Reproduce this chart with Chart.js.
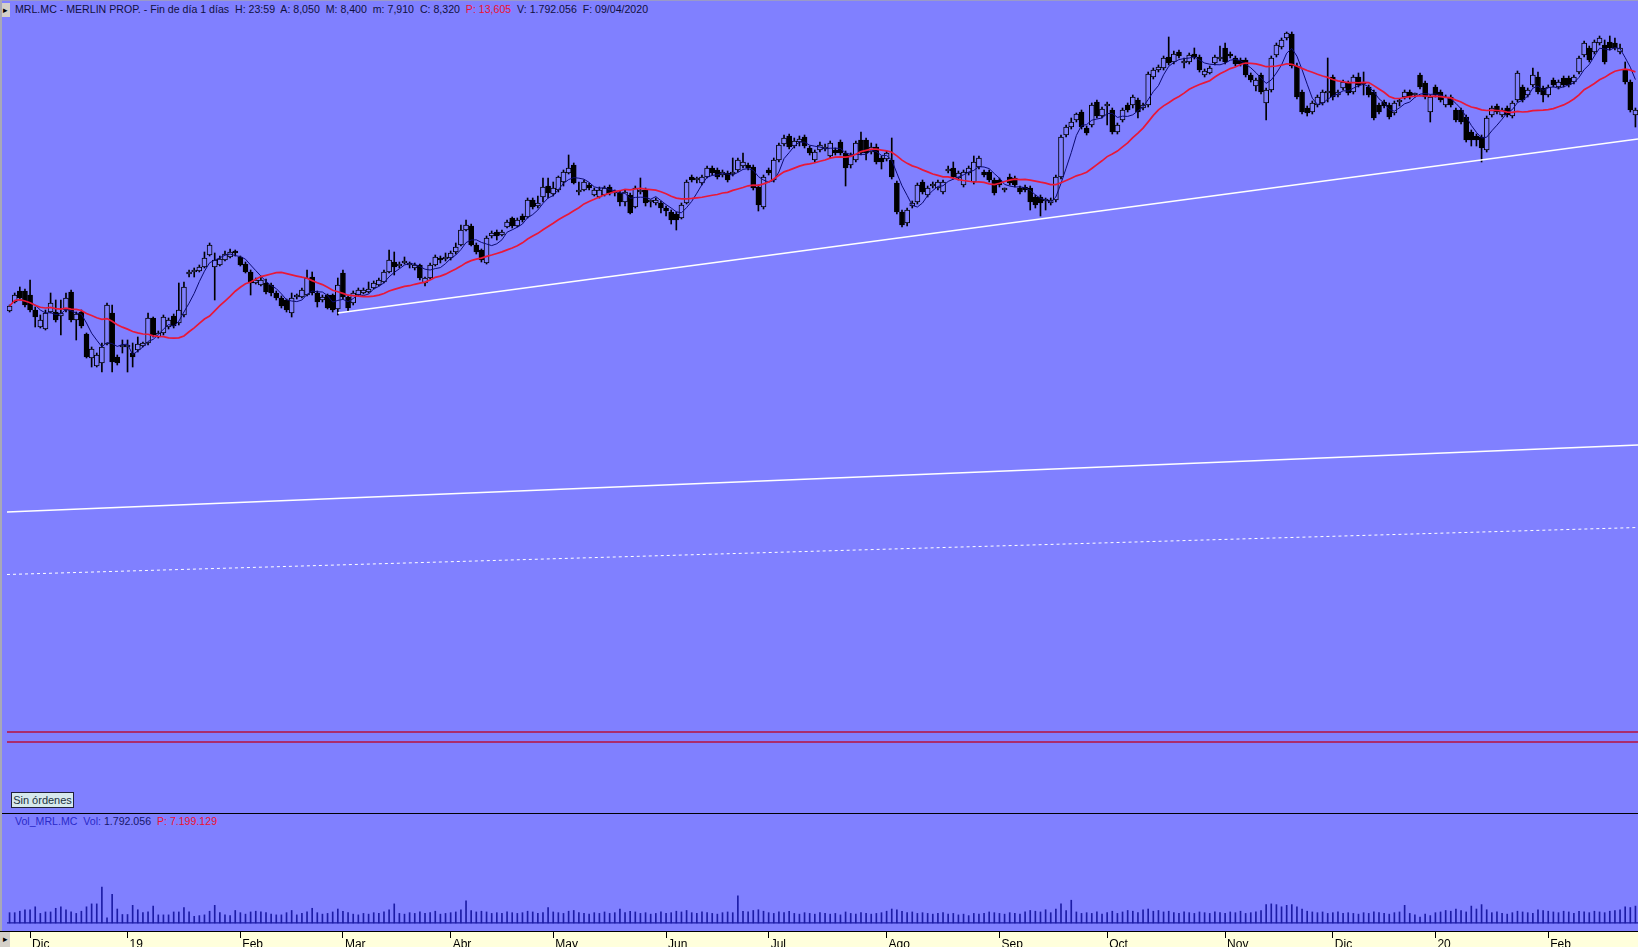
<!DOCTYPE html>
<html>
<head>
<meta charset="utf-8">
<title>MRL.MC - MERLIN PROP.</title>
<script src="https://cdn.jsdelivr.net/npm/chart.js@4.4.1/dist/chart.umd.min.js"></script>
<style>
    html, body { margin: 0; padding: 0; background: #8080ff; overflow: hidden; }
    #wrap { position: relative; width: 1638px; height: 947px; background: #8080ff;
        font-family: "Liberation Sans", Arial, sans-serif; }
    #topline { position: absolute; left: 0; top: 0; width: 1638px; height: 1px; background: #9a9ac8; }
    #leftline { position: absolute; left: 0; top: 0; width: 2px; height: 931px; background: #a8a8b8; }
    .btn { position: absolute; left: 0; width: 10px; background: #d4d0c8; color: #000;
        font-size: 9px; line-height: 14px; text-align: center; }
    #header { position: absolute; left: 15px; top: 3px; font-size: 10.6px; color: #101040; white-space: pre; }
    .red { color: #ee1030; }
    #priceChart { position: absolute; left: 7px; top: 20px; width: 1631px; height: 793px; }
    #sinOrdenes { position: absolute; left: 11px; top: 792px; width: 61px; height: 14px; border: 1px solid #20203a;
        background: #d6e8ec; color: #203040; font-size: 11px; line-height: 14px; text-align: center; }
    #sep { position: absolute; left: 0; top: 813px; width: 1638px; height: 1px; background: #000; }
    #volLabel { position: absolute; left: 15px; top: 815px; font-size: 10.6px; white-space: pre; color: #2a2ac8; }
    #volLabel .num { color: #16166a; }
    #axisBand { position: absolute; left: 0; top: 931px; width: 1638px; height: 16px; border-top: 1px solid #000;
        background: #ffffdc; }
    #volChart { position: absolute; left: 7px; top: 813px; width: 1631px; height: 134px; }
</style>
</head>
<body>
<div id="wrap">
    <div id="topline"></div>
    <div class="btn" style="top:3px;height:14px;">&#9656;</div>
    <div id="header">MRL.MC - MERLIN PROP. - Fin de día 1 días  H: 23:59  A: 8,050  M: 8,400  m: 7,910  C: 8,320  <span class="red">P: 13,605</span>  V: 1.792.056  F: 09/04/2020</div>
    <canvas id="priceChart" width="1631" height="793"></canvas>
    <div id="sinOrdenes">Sin órdenes</div>
    <div id="sep"></div>
    <div id="volLabel">Vol_MRL.MC  Vol: <span class="num">1.792.056</span>  <span class="red">P: 7.199.129</span></div>
    <div id="axisBand"></div>
    <div class="btn" style="top:932px;height:15px;">&#9656;</div>
    <canvas id="volChart" width="1631" height="134"></canvas>
    <div id="leftline"></div>
</div>
<script>
// trading days of each month on screen (first one is the tail of Nov 2018)
var monthDays = [4, 19, 22, 20, 21, 20, 22, 20, 23, 22, 21, 23, 21, 20, 22, 18];
var monthLabels = ['', 'Dic', '19', 'Feb', 'Mar', 'Abr', 'May', 'Jun', 'Jul', 'Ago', 'Sep', 'Oct', 'Nov', 'Dic', '20', 'Feb'];

var opens = [
    10.95, 11.04, 11.15, 11.15, 11.11, 10.96, 10.79, 10.77, 10.94, 10.94,
    10.90, 10.96, 11.14, 10.86, 10.94, 10.72, 10.48, 10.40, 10.43, 10.62,
    10.93, 10.49, 10.59, 10.59, 10.53, 10.56, 10.60, 10.63, 10.88, 10.69,
    10.73, 10.79, 10.90, 10.83, 10.91, 11.32, 11.34, 11.35, 11.39, 11.51,
    11.39, 11.41, 11.46, 11.49, 11.54, 11.49, 11.42, 11.34, 11.23, 11.21,
    11.23, 11.21, 11.13, 11.08, 11.06, 10.93, 11.09, 11.09, 11.11, 11.29,
    11.13, 11.06, 11.11, 11.11, 10.97, 11.33, 11.09, 11.03, 11.11, 11.13,
    11.14, 11.18, 11.21, 11.24, 11.34, 11.44, 11.40, 11.43, 11.41, 11.38,
    11.41, 11.23, 11.28, 11.41, 11.47, 11.47, 11.48, 11.54, 11.61, 11.76,
    11.80, 11.61, 11.56, 11.43, 11.70, 11.74, 11.71, 11.79, 11.88, 11.80,
    11.90, 11.89, 12.06, 12.00, 12.09, 12.20, 12.12, 12.16, 12.24, 12.33,
    12.41, 12.14, 12.16, 12.21, 12.11, 12.09, 12.11, 12.19, 12.13, 12.13,
    12.04, 12.11, 11.99, 12.14, 12.16, 12.04, 12.03, 12.03, 11.98, 11.94,
    11.92, 11.88, 12.03, 12.29, 12.26, 12.23, 12.29, 12.38, 12.36, 12.31,
    12.33, 12.32, 12.36, 12.40, 12.41, 12.39, 12.19, 11.99, 12.36, 12.26,
    12.46, 12.62, 12.70, 12.60, 12.64, 12.69, 12.58, 12.46, 12.56, 12.57,
    12.50, 12.56, 12.64, 12.53, 12.41, 12.46, 12.66, 12.66, 12.54, 12.59,
    12.48, 12.47, 12.46, 12.23, 11.94, 11.83, 12.00, 12.04, 12.24, 12.11,
    12.20, 12.18, 12.14, 12.35, 12.38, 12.28, 12.21, 12.33, 12.24, 12.39,
    12.34, 12.34, 12.26, 12.26, 12.16, 12.29, 12.28, 12.18, 12.19, 12.18,
    12.09, 12.09, 12.05, 12.03, 12.06, 12.29, 12.71, 12.79, 12.86, 12.94,
    12.78, 12.81, 13.04, 12.90, 13.00, 12.96, 12.74, 12.86, 13.01, 13.01,
    13.06, 12.98, 13.01, 13.29, 13.36, 13.38, 13.49, 13.44, 13.54, 13.43,
    13.44, 13.52, 13.49, 13.31, 13.33, 13.43, 13.47, 13.58, 13.52, 13.48,
    13.46, 13.46, 13.31, 13.20, 13.31, 13.03, 13.16, 13.51, 13.59, 13.68,
    13.72, 13.40, 13.14, 12.98, 12.94, 13.01, 13.03, 13.13, 13.29, 13.11,
    13.18, 13.23, 13.14, 13.29, 13.24, 13.19, 13.14, 13.01, 13.04, 13.01,
    12.93, 13.04, 13.09, 13.14, 13.11, 13.31, 13.23, 12.94, 13.19, 13.14,
    13.01, 13.09, 12.96, 12.96, 12.89, 12.74, 12.70, 12.69, 12.56, 12.91,
    13.00, 12.91, 12.98, 12.90, 13.06, 13.19, 13.11, 13.21, 13.29, 13.18,
    13.11, 13.26, 13.19, 13.28, 13.28, 13.24, 13.34, 13.51, 13.58, 13.54,
    13.63, 13.61, 13.64, 13.63, 13.54, 13.36, 13.24, 12.91
];
var highs = [
    11.01, 11.13, 11.19, 11.17, 11.26, 10.99, 10.91, 10.96, 11.13, 11.06,
    11.06, 11.13, 11.16, 10.94, 10.96, 10.73, 10.59, 10.53, 10.63, 11.03,
    11.01, 10.51, 10.66, 10.66, 10.63, 10.69, 10.64, 10.93, 10.89, 10.75,
    10.91, 10.88, 10.92, 11.23, 11.24, 11.36, 11.38, 11.41, 11.54, 11.63,
    11.53, 11.50, 11.55, 11.57, 11.56, 11.50, 11.44, 11.36, 11.28, 11.30,
    11.27, 11.23, 11.15, 11.10, 11.07, 11.13, 11.12, 11.18, 11.36, 11.34,
    11.15, 11.11, 11.12, 11.12, 11.28, 11.36, 11.10, 11.15, 11.18, 11.18,
    11.24, 11.25, 11.28, 11.36, 11.56, 11.54, 11.44, 11.49, 11.44, 11.43,
    11.42, 11.29, 11.43, 11.51, 11.50, 11.53, 11.55, 11.63, 11.81, 11.86,
    11.82, 11.63, 11.57, 11.70, 11.75, 11.76, 11.76, 11.86, 11.89, 11.88,
    11.92, 12.08, 12.08, 12.10, 12.28, 12.28, 12.24, 12.30, 12.36, 12.51,
    12.43, 12.24, 12.26, 12.23, 12.18, 12.19, 12.20, 12.21, 12.16, 12.15,
    12.16, 12.13, 12.20, 12.28, 12.18, 12.06, 12.08, 12.05, 12.00, 11.96,
    11.94, 12.03, 12.26, 12.31, 12.29, 12.31, 12.40, 12.40, 12.38, 12.36,
    12.35, 12.48, 12.48, 12.53, 12.43, 12.41, 12.21, 12.31, 12.38, 12.48,
    12.63, 12.71, 12.72, 12.68, 12.70, 12.71, 12.60, 12.56, 12.64, 12.62,
    12.65, 12.58, 12.66, 12.55, 12.53, 12.65, 12.74, 12.68, 12.63, 12.62,
    12.50, 12.55, 12.68, 12.25, 11.96, 11.98, 12.05, 12.23, 12.26, 12.20,
    12.24, 12.26, 12.26, 12.40, 12.44, 12.35, 12.36, 12.40, 12.50, 12.50,
    12.36, 12.36, 12.28, 12.28, 12.18, 12.32, 12.30, 12.20, 12.21, 12.20,
    12.11, 12.11, 12.08, 12.08, 12.31, 12.71, 12.81, 12.88, 12.93, 12.96,
    12.80, 13.03, 13.06, 12.99, 13.04, 12.98, 12.83, 12.98, 13.03, 13.11,
    13.08, 13.03, 13.34, 13.38, 13.41, 13.50, 13.69, 13.55, 13.56, 13.48,
    13.53, 13.58, 13.51, 13.37, 13.40, 13.51, 13.60, 13.63, 13.54, 13.50,
    13.48, 13.48, 13.33, 13.28, 13.33, 13.18, 13.50, 13.63, 13.68, 13.74,
    13.74, 13.43, 13.16, 13.00, 13.05, 13.11, 13.16, 13.48, 13.31, 13.16,
    13.26, 13.25, 13.31, 13.33, 13.34, 13.21, 13.16, 13.03, 13.06, 13.03,
    13.05, 13.07, 13.16, 13.16, 13.13, 13.33, 13.25, 13.11, 13.21, 13.16,
    13.11, 13.11, 12.98, 12.98, 12.91, 12.76, 12.72, 12.71, 12.90, 13.00,
    13.02, 12.98, 13.00, 13.05, 13.35, 13.21, 13.18, 13.38, 13.34, 13.20,
    13.21, 13.28, 13.26, 13.30, 13.30, 13.31, 13.50, 13.65, 13.60, 13.66,
    13.70, 13.66, 13.70, 13.68, 13.62, 13.44, 13.26, 12.98
];
var lows = [
    10.94, 11.03, 11.06, 10.99, 10.94, 10.79, 10.78, 10.76, 10.93, 10.84,
    10.71, 10.94, 10.84, 10.66, 10.78, 10.48, 10.39, 10.39, 10.34, 10.61,
    10.34, 10.41, 10.53, 10.34, 10.39, 10.54, 10.59, 10.61, 10.69, 10.68,
    10.71, 10.77, 10.78, 10.81, 10.89, 11.29, 11.29, 11.34, 11.38, 11.50,
    11.06, 11.40, 11.45, 11.48, 11.50, 11.40, 11.33, 11.11, 11.22, 11.20,
    11.12, 11.10, 11.06, 10.98, 10.94, 10.89, 11.07, 11.08, 11.10, 11.11,
    10.99, 11.04, 10.97, 10.94, 10.91, 11.07, 10.95, 11.01, 11.10, 11.12,
    11.13, 11.17, 11.20, 11.23, 11.33, 11.31, 11.38, 11.42, 11.38, 11.36,
    11.26, 11.20, 11.27, 11.40, 11.43, 11.45, 11.46, 11.52, 11.60, 11.75,
    11.60, 11.52, 11.44, 11.42, 11.68, 11.66, 11.70, 11.78, 11.78, 11.79,
    11.84, 11.88, 11.97, 11.98, 12.04, 12.08, 12.10, 12.14, 12.20, 12.32,
    12.22, 12.11, 12.15, 12.16, 12.10, 12.08, 12.10, 12.11, 12.10, 12.00,
    12.00, 11.92, 11.98, 12.12, 12.00, 11.99, 12.01, 11.93, 11.90, 11.82,
    11.76, 11.87, 12.02, 12.24, 12.23, 12.21, 12.28, 12.31, 12.27, 12.29,
    12.24, 12.30, 12.34, 12.38, 12.36, 12.16, 11.95, 11.97, 12.31, 12.24,
    12.44, 12.60, 12.57, 12.58, 12.60, 12.58, 12.51, 12.44, 12.54, 12.55,
    12.48, 12.51, 12.51, 12.20, 12.38, 12.44, 12.51, 12.46, 12.52, 12.42,
    12.37, 12.45, 12.27, 11.92, 11.79, 11.80, 11.98, 12.02, 12.12, 12.09,
    12.18, 12.16, 12.12, 12.33, 12.27, 12.26, 12.19, 12.31, 12.22, 12.37,
    12.29, 12.24, 12.11, 12.19, 12.14, 12.21, 12.19, 12.12, 12.14, 11.96,
    11.98, 11.90, 11.96, 12.01, 12.04, 12.27, 12.69, 12.77, 12.84, 12.77,
    12.71, 12.79, 12.88, 12.88, 12.81, 12.72, 12.72, 12.84, 12.94, 12.98,
    12.88, 12.96, 12.99, 13.27, 13.34, 13.36, 13.41, 13.42, 13.48, 13.38,
    13.42, 13.47, 13.34, 13.29, 13.32, 13.41, 13.45, 13.42, 13.48, 13.40,
    13.40, 13.29, 13.24, 13.15, 13.12, 12.86, 13.14, 13.49, 13.57, 13.66,
    13.38, 13.07, 12.92, 12.90, 12.92, 12.99, 13.01, 13.04, 13.06, 13.09,
    13.16, 13.11, 13.12, 13.19, 13.11, 13.09, 12.86, 12.92, 12.98, 12.87,
    12.91, 13.00, 13.07, 13.07, 13.09, 13.17, 13.07, 12.84, 13.09, 13.04,
    12.99, 12.99, 12.84, 12.82, 12.64, 12.60, 12.60, 12.44, 12.54, 12.89,
    12.92, 12.89, 12.89, 12.88, 13.04, 13.04, 13.09, 13.19, 13.12, 13.04,
    13.09, 13.19, 13.17, 13.19, 13.19, 13.22, 13.32, 13.49, 13.44, 13.52,
    13.61, 13.42, 13.56, 13.56, 13.52, 13.22, 12.94, 12.79
];
var closes = [
    11.00, 11.11, 11.08, 11.01, 10.96, 10.89, 10.86, 10.93, 11.03, 10.86,
    10.93, 11.08, 10.86, 10.92, 10.80, 10.49, 10.57, 10.51, 10.59, 11.01,
    10.44, 10.43, 10.60, 10.61, 10.49, 10.62, 10.63, 10.88, 10.71, 10.73,
    10.89, 10.86, 10.80, 10.96, 11.19, 11.33, 11.35, 11.39, 11.48, 11.61,
    11.46, 11.47, 11.52, 11.54, 11.53, 11.41, 11.34, 11.23, 11.26, 11.26,
    11.14, 11.13, 11.08, 11.00, 10.96, 11.08, 11.10, 11.16, 11.28, 11.13,
    11.04, 11.09, 10.98, 10.96, 11.21, 11.09, 10.98, 11.13, 11.16, 11.16,
    11.17, 11.23, 11.26, 11.34, 11.46, 11.39, 11.41, 11.45, 11.42, 11.41,
    11.28, 11.28, 11.41, 11.49, 11.46, 11.48, 11.53, 11.59, 11.76, 11.81,
    11.61, 11.54, 11.46, 11.68, 11.73, 11.70, 11.74, 11.84, 11.80, 11.86,
    11.86, 12.06, 11.99, 12.03, 12.19, 12.13, 12.18, 12.29, 12.34, 12.38,
    12.23, 12.15, 12.24, 12.18, 12.16, 12.16, 12.18, 12.13, 12.14, 12.04,
    12.14, 11.93, 12.18, 12.15, 12.03, 12.05, 12.06, 11.98, 11.95, 11.86,
    11.86, 12.01, 12.24, 12.26, 12.27, 12.29, 12.38, 12.33, 12.29, 12.34,
    12.26, 12.33, 12.46, 12.44, 12.38, 12.18, 12.01, 12.29, 12.33, 12.46,
    12.61, 12.68, 12.59, 12.65, 12.67, 12.60, 12.53, 12.54, 12.61, 12.58,
    12.63, 12.53, 12.53, 12.38, 12.51, 12.63, 12.53, 12.53, 12.59, 12.44,
    12.44, 12.53, 12.29, 11.94, 11.81, 11.96, 12.03, 12.21, 12.14, 12.18,
    12.21, 12.24, 12.24, 12.36, 12.29, 12.33, 12.34, 12.38, 12.44, 12.48,
    12.31, 12.26, 12.13, 12.21, 12.17, 12.23, 12.21, 12.14, 12.16, 12.04,
    12.01, 12.03, 12.06, 12.06, 12.29, 12.69, 12.79, 12.84, 12.92, 12.79,
    12.73, 13.01, 12.90, 12.97, 13.01, 12.74, 12.81, 12.96, 12.96, 13.09,
    12.94, 13.01, 13.32, 13.36, 13.39, 13.48, 13.43, 13.52, 13.50, 13.44,
    13.51, 13.49, 13.36, 13.35, 13.38, 13.49, 13.48, 13.44, 13.50, 13.42,
    13.42, 13.31, 13.26, 13.26, 13.14, 13.16, 13.48, 13.61, 13.66, 13.73,
    13.40, 13.09, 12.94, 12.93, 13.03, 13.09, 13.14, 13.15, 13.09, 13.14,
    13.24, 13.13, 13.29, 13.21, 13.22, 13.11, 12.88, 12.94, 13.00, 12.89,
    13.03, 13.05, 13.14, 13.09, 13.12, 13.19, 13.09, 13.09, 13.11, 13.06,
    13.09, 13.01, 12.86, 12.84, 12.66, 12.66, 12.66, 12.58, 12.88, 12.98,
    12.94, 12.96, 12.91, 13.03, 13.33, 13.06, 13.16, 13.31, 13.14, 13.11,
    13.19, 13.21, 13.24, 13.21, 13.21, 13.29, 13.48, 13.63, 13.46, 13.64,
    13.68, 13.44, 13.58, 13.58, 13.58, 13.24, 12.96, 12.96
];
// volume in millions of shares
var volumes = [
    1.4, 1.4, 1.6, 1.8, 1.8, 2.2, 1.3, 1.5, 1.5, 2.0,
    2.2, 1.8, 1.5, 1.3, 1.6, 2.2, 2.6, 2.6, 4.9, 0.7,
    3.9, 1.9, 1.15, 1.15, 2.4, 1.8, 1.4, 1.5, 2.3, 1.1,
    1.1, 1.1, 1.5, 1.5, 2.1, 1.5, 0.9, 1.0, 1.1, 1.6,
    2.4, 1.4, 1.1, 1.0, 1.7, 1.4, 1.2, 1.5, 1.6, 1.5,
    1.4, 1.2, 1.1, 1.1, 1.4, 1.7, 1.1, 1.3, 1.5, 2.0,
    1.4, 1.2, 1.3, 1.5, 1.9, 1.6, 1.4, 1.2, 1.1, 1.3,
    1.2, 1.4, 1.3, 1.5, 1.8, 2.6, 1.3, 1.2, 1.4, 1.3,
    1.5, 1.3, 1.4, 1.6, 1.2, 1.3, 1.4, 1.5, 1.8, 3.0,
    1.7, 1.5, 1.6, 1.5, 1.3, 1.4, 1.3, 1.5, 1.4, 1.3,
    1.4, 1.6, 1.5, 1.3, 1.4, 2.1, 1.5, 1.4, 1.3, 1.6,
    1.7, 1.4, 1.3, 1.2, 1.4, 1.3, 1.5, 1.3, 1.4, 1.9,
    1.4, 1.6, 1.5, 1.3, 1.4, 1.2, 1.3, 1.5, 1.3, 1.4,
    1.6, 1.5, 1.7, 1.4, 1.3, 1.5, 1.4, 1.3, 1.2, 1.4,
    1.5, 1.4, 3.7, 1.6, 1.5, 1.7, 1.8, 1.6, 1.4, 1.3,
    1.5, 1.4, 1.6, 1.3, 1.2, 1.4, 1.3, 1.2, 1.4, 1.3,
    1.2, 1.3, 1.1, 1.5, 1.3, 1.2, 1.4, 1.3, 1.2, 1.3,
    1.4, 1.6, 1.9, 1.8, 1.6, 1.4, 1.5, 1.3, 1.4, 1.3,
    1.2, 1.3, 1.4, 1.2, 1.3, 1.1, 1.2, 1.0, 1.3, 1.2,
    1.3, 1.5, 1.4, 1.3, 1.2, 1.4, 1.3, 1.2, 1.5, 1.7,
    1.6, 1.5, 1.8, 1.4, 1.9, 2.6, 1.7, 3.1, 1.5, 1.3,
    1.4, 1.3, 1.5, 1.2, 1.4, 1.6, 1.3, 1.5, 1.7, 1.6,
    1.4, 1.8, 1.9, 1.6, 1.7, 1.5, 1.6, 1.4, 1.3, 1.5,
    1.4, 1.3, 1.5, 1.4, 1.3, 1.5, 1.4, 1.3, 1.5, 1.4,
    1.6, 1.3, 1.4, 1.5, 1.7, 2.5, 2.6, 2.5, 2.2, 2.4,
    2.5, 2.2, 1.9, 1.6, 1.5, 1.4, 1.5, 1.3, 1.4, 1.5,
    1.3, 1.4, 1.3, 1.2, 1.4, 1.3, 1.5, 1.4, 1.3, 1.2,
    1.4, 1.5, 2.4, 1.3, 1.1, 0.8, 1.2, 1.0, 1.4, 1.5,
    1.7, 1.6, 1.9, 1.7, 1.5, 2.3, 1.9, 2.5, 1.8, 1.4,
    1.5, 1.3, 1.2, 1.4, 1.6, 1.5, 1.4, 1.3, 1.8, 1.7,
    1.6, 1.5, 1.4, 1.6, 1.5, 1.3, 1.6, 1.5, 1.4, 1.6,
    1.5, 1.4, 1.6, 1.7, 1.8, 2.2, 2.1, 2.3
];

// drawn lines: [day index, price] at both ends
var supportLine = [[64, 10.93], [317.5, 12.67]];
var upperLine = [[-0.5, 8.94], [317.5, 9.61]];
var dashedLine = [[-0.5, 8.315], [317.5, 8.785]];
var redLevels = [6.74, 6.64];

var BG = '#8080ff';
var days = 0;
for (var m = 0; m < monthDays.length; m++) days += monthDays[m];
[opens, highs, lows, closes, volumes].forEach(function (a) {
    if (a.length !== days) throw new Error('data length ' + a.length + ' != ' + days);
});

// first trading day of each month -> label
var tickAt = {};
var start = 0;
for (var m = 0; m < monthDays.length; m++) {
    if (monthLabels[m]) tickAt[start] = monthLabels[m];
    start += monthDays[m];
}

function movingAverage(values, period) {
    var out = [];
    for (var i = 0; i < values.length; i++) {
        var from = Math.max(0, i - period + 1), sum = 0;
        for (var j = from; j <= i; j++) sum += values[j];
        out.push({x: i, y: sum / (i - from + 1)});
    }
    return out;
}

function segment(pairs) {
    return pairs.map(function (p) { return {x: p[0], y: p[1]}; });
}

var wicks = [], bodies = [], bodyColors = [], vols = [];
for (var i = 0; i < days; i++) {
    wicks.push({x: i, y: [lows[i], highs[i]]});
    bodies.push({x: i, y: [opens[i], closes[i]]});
    bodyColors.push(closes[i] >= opens[i] ? BG : '#000000');
    vols.push({x: i, y: volumes[i]});
}

var xMin = -0.5, xMax = days - 0.5;

var lineDefaults = {type: 'line', pointRadius: 0, tension: 0, fill: false, order: -1};

function lineSet(data, color, width, extra) {
    var ds = Object.assign({}, lineDefaults, {data: data, borderColor: color, borderWidth: width});
    return Object.assign(ds, extra || {});
}

var priceSets = [
    {
        type: 'bar', data: bodies, backgroundColor: bodyColors, borderColor: '#000000',
        borderWidth: 1, borderSkipped: false, barThickness: 5, minBarLength: 2, grouped: false, order: 0
    },
    {
        type: 'bar', data: wicks, backgroundColor: '#000000', borderWidth: 0,
        barThickness: 1, grouped: false, order: 1
    },
    lineSet(movingAverage(closes, 20), '#e81838', 1.7),
    lineSet(movingAverage(closes, 5), '#0a0a70', 1),
    lineSet(segment(supportLine), '#ffffff', 1.4),
    lineSet(segment(upperLine), '#ffffff', 1.3),
    lineSet(segment(dashedLine), '#ffffff', 1, {borderDash: [3, 3]}),
    lineSet(segment([[xMin, redLevels[0]], [xMax, redLevels[0]]]), '#b8103c', 1.6),
    lineSet(segment([[xMin, redLevels[1]], [xMax, redLevels[1]]]), '#b8103c', 1.6)
];

new Chart(document.getElementById('priceChart').getContext('2d'), {
    type: 'bar',
    data: {datasets: priceSets},
    options: {
        responsive: false,
        animation: false,
        layout: {padding: 0},
        plugins: {legend: {display: false}, tooltip: {enabled: false}},
        scales: {
            x: {type: 'linear', min: xMin, max: xMax, offset: false, display: false},
            y: {type: 'linear', min: 5.93, max: 13.86, display: false}
        }
    }
});

new Chart(document.getElementById('volChart').getContext('2d'), {
    type: 'bar',
    data: {
        datasets: [
            {type: 'bar', data: vols, backgroundColor: '#1c1ca6', barThickness: 1, order: 0},
            lineSet(segment([[xMin, 0], [xMax, 0]]), '#1c1ca6', 1.2)
        ]
    },
    options: {
        responsive: false,
        animation: false,
        layout: {padding: 0},
        plugins: {legend: {display: false}, tooltip: {enabled: false}},
        scales: {
            x: {
                type: 'linear', min: xMin, max: xMax, position: 'bottom', offset: false,
                afterBuildTicks: function (scale) {
                    scale.ticks = Object.keys(tickAt).map(function (k) { return {value: +k}; });
                },
                afterFit: function (scale) { scale.height = 16; },
                border: {display: false},
                grid: {drawOnChartArea: false, offset: false, tickLength: 7, color: '#000000', lineWidth: 1},
                ticks: {
                    autoSkip: false, maxRotation: 0, align: 'start', labelOffset: 2, padding: -1,
                    color: '#000000', font: {family: 'Liberation Sans, Arial, sans-serif', size: 12},
                    callback: function (value) { return tickAt[value] || ''; }
                }
            },
            y: {type: 'linear', min: -1.1, max: 15, display: false}
        }
    }
});
</script>
</body>
</html>
